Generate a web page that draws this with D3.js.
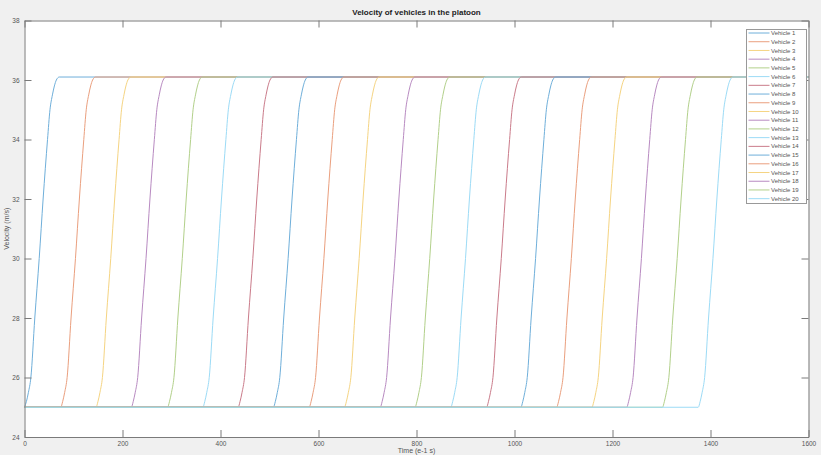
<!DOCTYPE html>
<html>
<head>
<meta charset="utf-8">
<script src="https://cdn.jsdelivr.net/npm/d3@7"></script>
<style>
  body { margin: 0; background: #f0f0f0; }
  text { font-family: "Liberation Sans", Arial, sans-serif; }
</style>
</head>
<body>
<div id="chart"></div>
<script>
var width = 821, height = 455;
var margin = { top: 20.5, right: 12.5, bottom: 18, left: 24.5 };

// vehicles and the time each one leaves 25 m/s
var vehicles = d3.range(1, 21).map(function (i) { return "Vehicle " + i; });
var startTimes = [0, 74, 146, 218, 292, 364, 436, 508, 581, 653,
                  726, 797, 870, 943, 1013, 1086, 1158, 1229, 1302, 1375];
var rampTime = [0, 4, 8, 13, 21, 30, 38, 47, 52, 57, 61, 65, 71];
var rampVel  = [25, 25.2, 25.5, 26.0, 28.0, 30.0, 32.0, 34.0, 35.0, 35.5, 35.8, 36.0, 36.1];
var endTime = 1600;

var xTicks = [0, 200, 400, 600, 800, 1000, 1200, 1400, 1600];
var yTicks = [24, 26, 28, 30, 32, 34, 36, 38];

// matlab default order, washed out like the screenshot
var colors = ["#6FAFDA", "#EA9F7E", "#F5D482", "#B88AC1", "#B2D08A", "#9CDBF6", "#CA7B8A"];

var innerW = width - margin.left - margin.right,
    innerH = height - margin.top - margin.bottom;

var x = d3.scaleLinear().domain([0, 1600]).range([0, innerW]);
var y = d3.scaleLinear().domain([24, 38]).range([innerH, 0]);
var color = function (i) { return colors[i % colors.length]; };

var svg = d3.select("#chart").append("svg")
    .attr("width", width)
    .attr("height", height);

svg.append("rect").attr("width", width).attr("height", height).attr("fill", "#f0f0f0");

var g = svg.append("g")
    .attr("transform", "translate(" + margin.left + "," + margin.top + ")");

g.append("rect")
    .attr("width", innerW).attr("height", innerH)
    .attr("fill", "#fff");

var series = vehicles.map(function (name, i) {
    var pts = [[0, 25]];
    rampTime.forEach(function (t, k) { pts.push([startTimes[i] + t, rampVel[k]]); });
    pts.push([endTime, rampVel[rampVel.length - 1]]);
    return { name: name, values: pts };
});

var line = d3.line()
    .x(function (d) { return x(d[0]); })
    .y(function (d) { return y(d[1]); })
    .curve(d3.curveMonotoneX);

g.append("g").selectAll("path")
    .data(series)
    .enter().append("path")
    .attr("d", function (d) { return line(d.values); })
    .attr("fill", "none")
    .attr("stroke", function (d, i) { return color(i); })
    .attr("stroke-width", 1);

// axes: ticks pointing inward on all four sides
var axisColor = "#7a7a7a";
var fmt = d3.format("d");
function styleAxis(sel) {
    sel.select(".domain").attr("stroke", axisColor);
    sel.selectAll(".tick line").attr("stroke", axisColor);
    sel.selectAll(".tick text").attr("fill", "#555").style("font-size", "6.5px");
}

g.append("g")
    .attr("transform", "translate(0," + innerH + ")")
    .call(d3.axisBottom(x).tickValues(xTicks).tickFormat(fmt).tickSizeInner(-7).tickSizeOuter(0).tickPadding(4))
    .call(styleAxis);

g.append("g")
    .call(d3.axisTop(x).tickValues(xTicks).tickSizeInner(-7).tickSizeOuter(0).tickFormat(""))
    .call(styleAxis);

g.append("g")
    .call(d3.axisLeft(y).tickValues(yTicks).tickFormat(fmt).tickSizeInner(-7).tickSizeOuter(0).tickPadding(5))
    .call(styleAxis);

g.append("g")
    .attr("transform", "translate(" + innerW + ",0)")
    .call(d3.axisRight(y).tickValues(yTicks).tickSizeInner(-7).tickSizeOuter(0).tickFormat(""))
    .call(styleAxis);

// titles
svg.append("text")
    .attr("x", margin.left + innerW / 2).attr("y", 15)
    .attr("text-anchor", "middle")
    .style("font-size", "8px").style("font-weight", "bold")
    .attr("fill", "#222")
    .text("Velocity of vehicles in the platoon");

svg.append("text")
    .attr("x", margin.left + innerW / 2).attr("y", 453)
    .attr("text-anchor", "middle")
    .style("font-size", "7px").attr("fill", "#555")
    .text("Time (e-1 s)");

svg.append("text")
    .attr("transform", "translate(9," + (margin.top + innerH / 2) + ") rotate(-90)")
    .attr("text-anchor", "middle")
    .style("font-size", "7px").attr("fill", "#555")
    .text("Velocity (m/s)");

// legend
var legend = svg.append("g").attr("transform", "translate(746.5,29.5)");
legend.append("rect")
    .attr("width", 60).attr("height", 174)
    .attr("fill", "#fff").attr("stroke", "#999");

var item = legend.selectAll("g.item")
    .data(vehicles)
    .enter().append("g")
    .attr("class", "item")
    .attr("transform", function (d, i) { return "translate(0," + (3.5 + i * 8.72) + ")"; });

item.append("line")
    .attr("x1", 2).attr("x2", 23)
    .attr("stroke", function (d, i) { return color(i); });

item.append("text")
    .attr("x", 24.5).attr("dy", "0.35em")
    .style("font-size", "6px").attr("fill", "#555")
    .text(function (d) { return d; });
</script>
</body>
</html>
